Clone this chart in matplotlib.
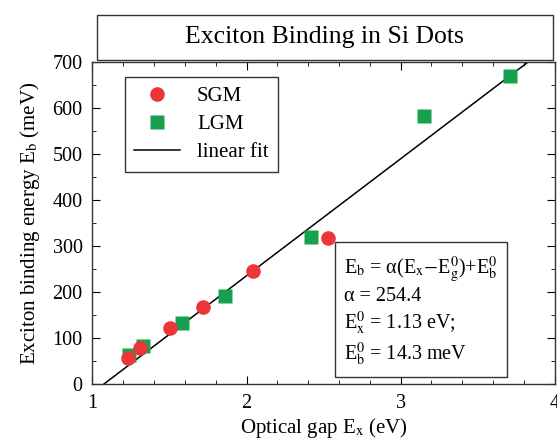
import matplotlib.pyplot as plt
import numpy as np
from matplotlib.patches import Rectangle
from matplotlib.ticker import MultipleLocator

plt.rcParams['font.family'] = ['Liberation Serif', 'DejaVu Serif']
plt.rcParams['mathtext.fontset'] = 'stix'

# Data
sgm_gap = [1.23, 1.31, 1.50, 1.72, 2.04, 2.53]
sgm_eb = [57, 78, 123, 168, 247, 318]
lgm_gap = [1.24, 1.33, 1.58, 1.86, 2.42, 3.15, 3.71]
lgm_eb = [63, 83, 133, 191, 320, 582, 670]

# Linear fit parameters
alpha = 254.4
e_x0 = 1.13
e_b0 = 14.3

fig = plt.figure(figsize=(5.57, 4.41), dpi=100)
ax = fig.add_axes([0.166, 0.129, 0.830, 0.730])

fit_x = np.linspace(1, 4, 200)
fit_y = alpha * (fit_x - e_x0) + e_b0

ax.plot(fit_x, fit_y, color='black', lw=1.1, label='linear fit', zorder=2)
ax.plot(lgm_gap, lgm_eb, 's', color='#17a04e', ms=9.5, mec='none', label='LGM', zorder=3)
ax.plot(sgm_gap, sgm_eb, 'o', color='#ec3538', ms=10.5, mec='none', label='SGM', zorder=4)

ax.set_xlim(1, 4)
ax.set_ylim(0, 700)
ax.xaxis.set_major_locator(MultipleLocator(1))
ax.xaxis.set_minor_locator(MultipleLocator(0.2))
ax.yaxis.set_major_locator(MultipleLocator(100))
ax.yaxis.set_minor_locator(MultipleLocator(50))
ax.tick_params(which='both', direction='in', top=True, right=True, labelsize=14.5, pad=7)
ax.tick_params(which='major', length=6)
ax.tick_params(which='minor', length=3)
for s in ax.spines.values():
    s.set_linewidth(1.0)
    s.set_color('#333333')

ax.set_xlabel('Optical gap E$_\\mathrm{x}$ (eV)', fontsize=15, labelpad=2)
ax.set_ylabel('Exciton binding energy E$_\\mathrm{b}$ (meV)', fontsize=15, labelpad=8)

handles, labels = ax.get_legend_handles_labels()
order = [2, 1, 0]
leg = ax.legend([handles[i] for i in order], [labels[i] for i in order],
                loc='upper left', bbox_to_anchor=(0.048, 0.985), fontsize=15,
                fancybox=False, edgecolor='#333333', framealpha=1,
                handlelength=2.2, borderpad=0.45, labelspacing=0.4)
leg.get_frame().set_linewidth(1.0)

fit_text = ('E$_\\mathrm{b}$ = α(E$_\\mathrm{x}$$-$E$_\\mathrm{g}^{0}$)+E$_\\mathrm{b}^{0}$\n'
            'α = 254.4\n'
            'E$_\\mathrm{x}^{0}$ = 1.13 eV;\n'
            'E$_\\mathrm{b}^{0}$ = 14.3 meV')
ax.text(0.545, 0.05, fit_text, transform=ax.transAxes, fontsize=14.5,
        va='bottom', ha='left', linespacing=1.18,
        bbox=dict(boxstyle='square,pad=0.45', fc='white', ec='#333333', lw=1.0))

# Title box above the plot
fig.patches.append(Rectangle((0.174, 0.864), 0.818, 0.102, transform=fig.transFigure,
                             fill=False, ec='#333333', lw=1.0))
fig.text(0.583, 0.915, 'Exciton Binding in Si Dots', ha='center', va='center', fontsize=18.5)

fig.savefig('out.png', dpi=100)
